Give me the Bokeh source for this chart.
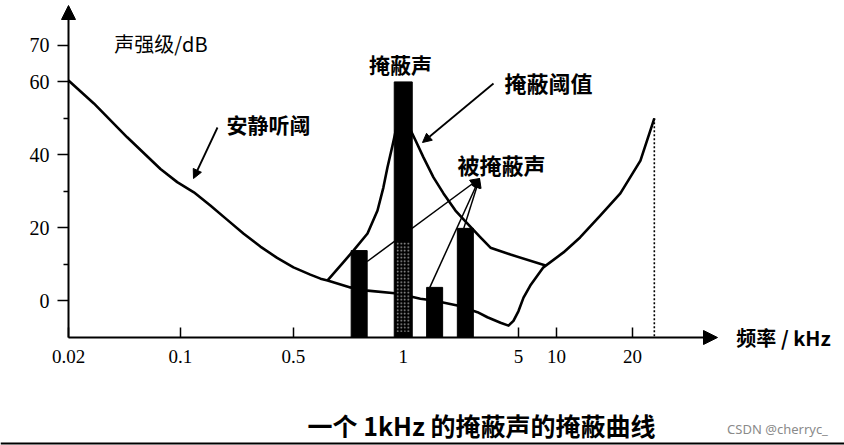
import numpy as np
from bokeh.plotting import figure
from bokeh.models import (Range1d, FixedTicker, CustomJSTickFormatter, Label,
                          Arrow, NormalHead)
from bokeh.embed import file_html
from bokeh.resources import INLINE

# ---------------- data ----------------
tick_freqs = [0.02, 0.1, 0.5, 1, 5, 10, 20]              # kHz
tick_labels = ["0.02", "0.1", "0.5", "1", "5", "10", "20"]
tick_slots = [0.0, 0.997, 2.003, 2.98, 4.006, 4.344, 5.021]  # hand-drawn axis spacing

y_ticks = [0, 20, 40, 60, 70]
y_minor = [10, 30, 50]

# quiet threshold (安静听阈)
quiet_f = [0.02, 0.0288, 0.0465, 0.075, 0.0954, 0.121, 0.153, 0.194, 0.246, 0.312,
           0.396, 0.5, 0.556, 0.593, 0.62, 0.716, 0.798, 0.964, 1.27, 1.525, 2.13,
           2.82, 3.24, 3.89, 4.35, 4.66, 5.0, 5.48, 6.2, 7.88, 10.66, 12.4, 14.9,
           17.9, 21.5, 24.4]
quiet_db = [60.4, 54.1, 44.8, 36.1, 32.5, 29.7, 26.1, 22.2, 18.3, 14.8,
            11.7, 9.1, 7.1, 6.0, 5.5, 3.6, 2.7, 1.9, 0.5, 0.0, -1.4,
            -3.2, -4.6, -6.1, -6.9, -5.6, -2.9, 0.8, 4.1, 9.1, 13.2, 17.3, 23.3,
            29.4, 38.4, 50]

# masking threshold (掩蔽阈值)
mask_f = [0.62, 0.681, 0.73, 0.798, 0.85, 0.882, 0.905, 0.934, 1.0, 1.075, 1.186,
          1.326, 1.525, 1.754, 2.073, 2.453, 2.94, 3.38, 4.47, 8.2]
mask_db = [5.5, 10.2, 13.7, 18.4, 24.7, 31, 36.5, 42.5, 56, 48, 44,
           39.3, 33.8, 29.4, 24.7, 21.1, 17.3, 14.5, 12.6, 9.6]

masker_f = [1.0]
masker_db = [60]
masker_speckle_db = [16]
probe_f = [0.757, 1.55, 2.38]
probe_db = [13.7, 3.6, 19.8]
limit_f = [24.4, 24.4]
limit_db = [50, -10.16]

# ---------------- geometry helpers ----------------
PX_SLOT = 112.33
PX_DB = 3.643
X0, Y0 = 68, 300            # pixel of slot 0 / 0 dB


def X(px):
    return (px - X0) / PX_SLOT


def Y(py):
    return (Y0 - py) / PX_DB


lf = np.log10(tick_freqs)
_slope = (tick_slots[-1] - tick_slots[-2]) / (lf[-1] - lf[-2])


def fpos(f):
    lg = np.log10(np.asarray(f, dtype=float))
    out = np.interp(lg, lf, tick_slots)
    return np.where(lg > lf[-1], tick_slots[-1] + (lg - lf[-1]) * _slope, out)


YBOT = Y(337)
p = figure(width=844, height=445, output_backend="svg", toolbar_location=None,
           x_range=Range1d(X(0), X(844)), y_range=Range1d(Y(445), Y(0)),
           min_border=0, min_border_left=0, min_border_right=0,
           min_border_top=0, min_border_bottom=0)
p.outline_line_color = None
p.grid.visible = False
p.background_fill_color = "white"
p.border_fill_color = "white"

# axes (placed inside the canvas at the axis origin)
xa = p.xaxis[0]
xa.fixed_location = YBOT
xa.ticker = FixedTicker(ticks=tick_slots)
xa.formatter = CustomJSTickFormatter(args=dict(labels=tick_labels),
                                     code="return labels[index]")
xa.axis_line_color = None
xa.major_tick_in = 10
xa.major_tick_out = 0
xa.major_tick_line_width = 1.5
xa.minor_tick_line_color = None
xa.major_label_standoff = 12
xa.major_label_text_font = "Liberation Serif"
xa.major_label_text_font_size = "19px"
xa.major_label_text_color = "black"

ya = p.yaxis[0]
ya.fixed_location = 0
ya.ticker = FixedTicker(ticks=y_ticks, minor_ticks=y_minor)
ya.axis_line_color = None
ya.major_tick_out = 11
ya.major_tick_in = 0
ya.minor_tick_out = 5
ya.minor_tick_in = 0
ya.major_tick_line_width = 1.5
ya.minor_tick_line_width = 1.5
ya.major_label_standoff = 8
ya.major_label_text_font = "Liberation Serif"
ya.major_label_text_font_size = "20px"
ya.major_label_text_color = "black"

# axis lines with arrows
p.add_layout(Arrow(x_start=0, y_start=YBOT, x_end=0, y_end=Y(5), line_width=2,
                   end=NormalHead(size=14, fill_color="black", line_color="black")))
p.add_layout(Arrow(x_start=0, y_start=YBOT, x_end=X(717), y_end=YBOT, line_width=2,
                   end=NormalHead(size=14, fill_color="black", line_color="black")))

# curves
p.line(fpos(quiet_f), quiet_db, line_color="black", line_width=2.6, line_join="round")
p.line(fpos(mask_f), mask_db, line_color="black", line_width=2.6, line_join="round")
p.line(fpos(limit_f), limit_db, line_color="black", line_width=1.6, line_dash="2 2")

# bars
bw = 16 / PX_SLOT
mw = 18 / PX_SLOT
p.vbar(x=fpos(probe_f), top=probe_db, bottom=YBOT, width=bw,
       fill_color="black", line_color="black")
p.vbar(x=fpos(masker_f), top=masker_db, bottom=YBOT, width=mw,
       fill_color="black", line_color="black")
p.vbar(x=fpos(masker_f), top=masker_speckle_db, bottom=YBOT + 1.5, width=mw * 0.75,
       fill_color="black", line_color=None, hatch_pattern="dot",
       hatch_color="#a8a8a8", hatch_scale=3.5, hatch_weight=1.2)

# pointer arrows
head = dict(size=9, fill_color="black", line_color="black")
p.add_layout(Arrow(x_start=X(217), y_start=Y(127), x_end=X(193), y_end=Y(178),
                   line_width=1.8, end=NormalHead(**head)))
p.add_layout(Arrow(x_start=X(493), y_start=Y(83), x_end=X(422), y_end=Y(142),
                   line_width=1.8, end=NormalHead(**head)))
apx, apy = X(479), Y(178)
px_ = fpos(probe_f)
ends = [(px_[0] + bw / 2, probe_db[0] - 3),
        (px_[1] - bw * 0.3, probe_db[1]),
        (px_[2] - bw * 0.1, probe_db[2])]
for (ex, ey) in ends:
    p.add_layout(Arrow(x_start=ex, y_start=ey, x_end=apx, y_end=apy, line_width=1.5,
                       end=NormalHead(**head)))


# texts
def lab(text, cx, cy, size, bold=True, font="Noto Sans CJK SC", color="black"):
    p.add_layout(Label(x=X(cx), y=Y(cy), text=text, text_align="center",
                       text_baseline="middle", text_font=font,
                       text_font_size=size, text_color=color,
                       text_font_style="bold" if bold else "normal"))


lab("声强级/dB", 160, 43, "20px", bold=False)
lab("掩蔽声", 400, 63, "21px")
lab("掩蔽阈值", 548, 81, "22px")
lab("安静听阈", 268, 123, "21px")
lab("被掩蔽声", 501, 163, "22px")
lab("频率 / kHz", 783, 337, "20px")
lab("一个 1kHz 的掩蔽声的掩蔽曲线", 481, 424, "25px")
lab("CSDN @cherryc_", 777, 428, "13px", bold=False, font="Noto Sans", color="#8a8a8a")

# bottom border line of the scan
p.add_layout(Arrow(x_start=X(0), y_start=Y(443), x_end=X(844), y_end=Y(443),
                   line_width=2, end=None))

open("out.html", "w").write(file_html(p, INLINE))
